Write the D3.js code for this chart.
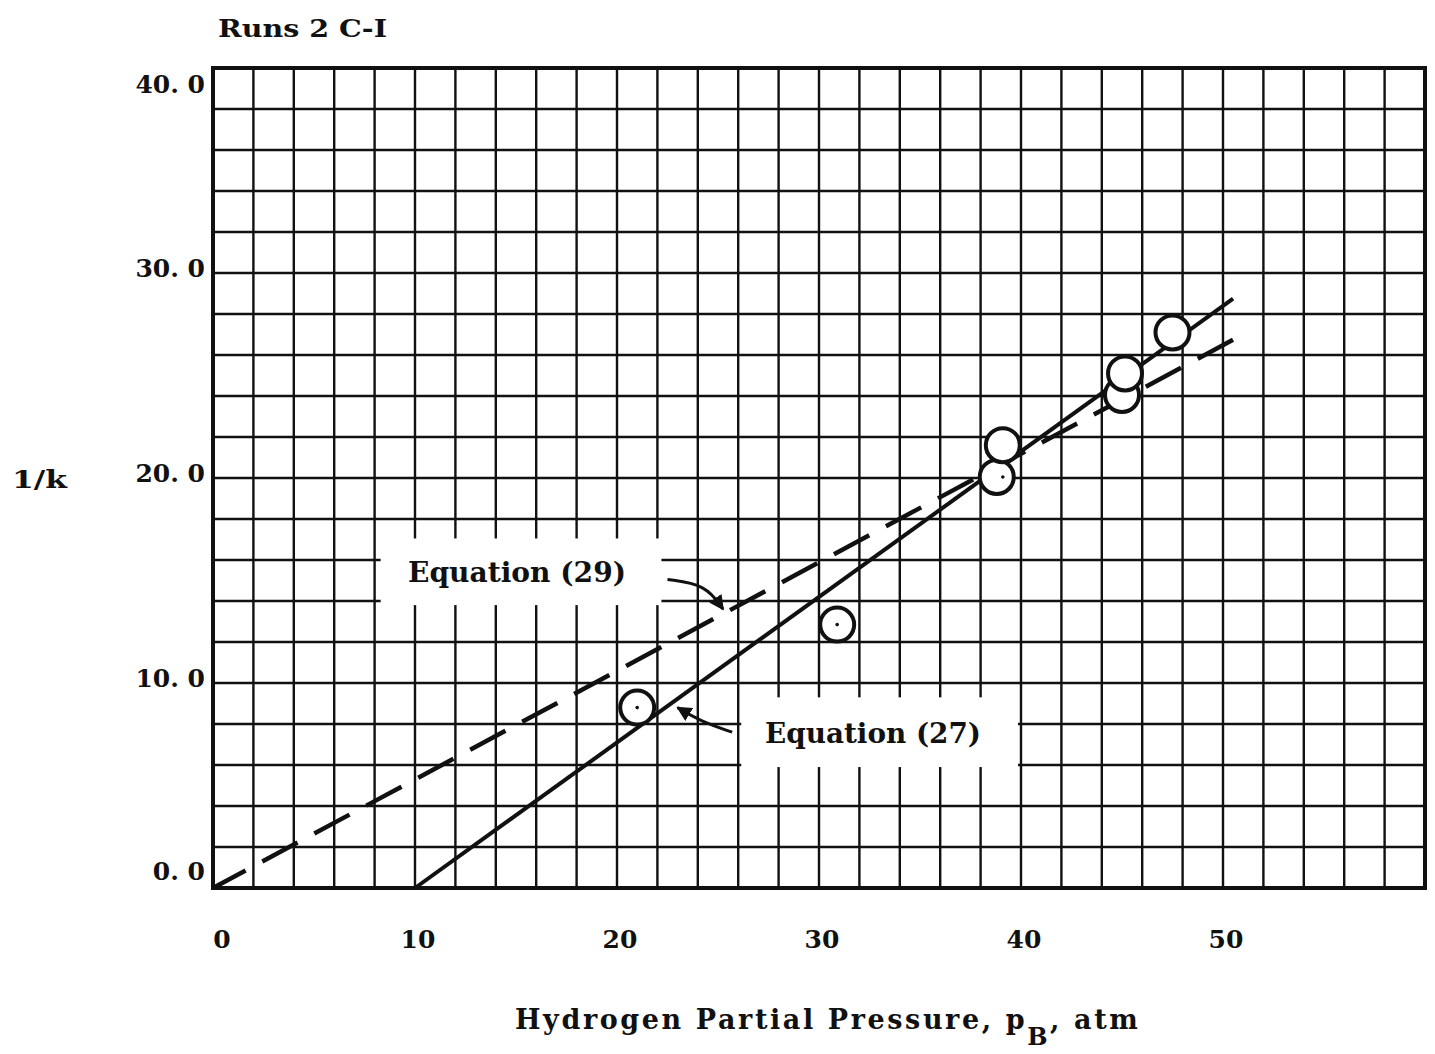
<!DOCTYPE html>
<html>
<head>
<meta charset="utf-8">
<script src="https://cdnjs.cloudflare.com/ajax/libs/d3/7.8.5/d3.min.js"></script>
<style>
  body { margin: 0; background: white; }
  text { font-family: 'DejaVu Serif', serif; font-weight: bold; fill: #111; }
</style>
</head>
<body>
<div id="chart"></div>
<script>
// Data
const pressure = [21.0, 30.9, 38.8, 39.1, 45.0, 45.15, 47.5];
const invK     = [8.8, 12.85, 20.05, 21.6, 24.05, 25.1, 27.1];
const withDot  = [true, true, false, true, false, false, false];

// Fitted lines (pB, 1/k) end points
const eq27 = [[10, 0], [50.5, 28.75]];
const eq29 = [[0, 0], [50.7, 26.85]];

const xTicks = [0, 10, 20, 30, 40, 50];
const yTicks = [0, 10, 20, 30, 40];
const yTickLabels = ['0. 0', '10. 0', '20. 0', '30. 0', '40. 0'];

// Canvas
const width = 1435,
      height = 1054;
const margin = { top: 68, right: 10, bottom: 166, left: 213 };

const svg = d3.select('#chart').append('svg')
    .attr('width', width)
    .attr('height', height)
    .style('background', 'white');

const x = d3.scaleLinear().domain([0, 60]).range([margin.left, width - margin.right]);
const y = d3.scaleLinear().domain([0, 40]).range([height - margin.bottom, margin.top]);

// Graph paper grid, every 2 units
const grid = svg.append('g').attr('stroke', '#111').attr('stroke-width', 2.4);
grid.selectAll('.vx').data(d3.range(2, 60, 2)).enter().append('line')
    .attr('x1', d => x(d)).attr('x2', d => x(d))
    .attr('y1', y(0)).attr('y2', y(40));
grid.selectAll('.hy').data(d3.range(2, 40, 2)).enter().append('line')
    .attr('y1', d => y(d)).attr('y2', d => y(d))
    .attr('x1', x(0)).attr('x2', x(60));

// Frame
svg.append('rect')
    .attr('x', x(0)).attr('y', y(40))
    .attr('width', x(60) - x(0)).attr('height', y(0) - y(40))
    .attr('fill', 'none').attr('stroke', '#111').attr('stroke-width', 4);

// White patches behind the equation labels
const boxes = [
  { x0: 8.3, x1: 22.2, y0: 13.8, y1: 17.05 },
  { x0: 26.15, x1: 39.85, y0: 5.9, y1: 9.3 }
];
svg.selectAll('.box').data(boxes).enter().append('rect')
    .attr('x', d => x(d.x0)).attr('y', d => y(d.y1))
    .attr('width', d => x(d.x1) - x(d.x0))
    .attr('height', d => y(d.y0) - y(d.y1))
    .attr('fill', 'white');

// Fitted lines
const line = d3.line().x(d => x(d[0])).y(d => y(d[1]));
svg.append('path').datum(eq29)
    .attr('d', line)
    .attr('fill', 'none').attr('stroke', '#111').attr('stroke-width', 4.5)
    .attr('stroke-dasharray', '40 19')
    .attr('stroke-dashoffset', 3);
svg.append('path').datum(eq27)
    .attr('d', line)
    .attr('fill', 'none').attr('stroke', '#111').attr('stroke-width', 4);

// Leader arrows to the lines
const curve = d3.line().x(d => x(d[0])).y(d => y(d[1])).curve(d3.curveBasis);
svg.append('defs').append('marker')
    .attr('id', 'head')
    .attr('viewBox', '0 0 10 10')
    .attr('refX', 9).attr('refY', 5)
    .attr('markerWidth', 5).attr('markerHeight', 5)
    .attr('orient', 'auto')
  .append('path').attr('d', 'M0,0L10,5L0,10Z').attr('fill', '#111');

const leaders = [
  [[22.5, 15.05], [24.4, 14.8], [25.25, 13.6]],
  [[25.7, 7.6], [24.1, 8.15], [23.0, 8.8]]
];
svg.selectAll('.leader').data(leaders).enter().append('path')
    .attr('d', curve)
    .attr('fill', 'none').attr('stroke', '#111').attr('stroke-width', 3)
    .attr('marker-end', 'url(#head)');

// Data points
const pts = svg.selectAll('.pt').data(pressure).enter().append('g');
pts.append('circle')
    .attr('cx', d => x(d))
    .attr('cy', (d, i) => y(invK[i]))
    .attr('r', 17)
    .attr('fill', 'white')
    .attr('stroke', '#111').attr('stroke-width', 4);
pts.filter((d, i) => withDot[i]).append('circle')
    .attr('cx', d => x(d))
    .attr('cy', (d, i) => y(invK[i]))
    .attr('r', 1.8).attr('fill', '#111');

// Tick labels
svg.selectAll('.xt').data(xTicks).enter().append('text')
    .attr('x', d => x(d) + (d === 0 ? 9 : 3))
    .attr('y', 948)
    .attr('text-anchor', 'middle')
    .attr('font-size', 25)
    .text(d => d);
svg.selectAll('.yt').data(yTicks).enter().append('text')
    .attr('x', 205)
    .attr('y', d => Math.min(Math.max(y(d) + 4, 93), 880))
    .attr('text-anchor', 'end')
    .attr('font-size', 25)
    .text((d, i) => yTickLabels[i]);

// Equation labels
svg.append('text').attr('x', 408).attr('y', 582)
    .attr('font-size', 27).attr('textLength', 218).attr('lengthAdjust', 'spacingAndGlyphs')
    .text('Equation (29)');
svg.append('text').attr('x', 765).attr('y', 743)
    .attr('font-size', 27).attr('textLength', 216).attr('lengthAdjust', 'spacingAndGlyphs')
    .text('Equation (27)');

// Title and axis labels
svg.append('text').attr('x', 218).attr('y', 37)
    .attr('font-size', 25).attr('textLength', 169).attr('lengthAdjust', 'spacingAndGlyphs')
    .text('Runs 2 C-I');
svg.append('text').attr('x', 12).attr('y', 488)
    .attr('font-size', 25).attr('textLength', 55).attr('lengthAdjust', 'spacingAndGlyphs')
    .text('1/k');

const xTitle = svg.append('text').attr('x', 515).attr('y', 1029)
    .attr('font-size', 27).attr('letter-spacing', 2.6);
xTitle.append('tspan').text('Hydrogen Partial Pressure, p');
xTitle.append('tspan').attr('dy', 16).attr('font-size', 24).text('B');
xTitle.append('tspan').attr('dy', -16).text(', atm');
</script>
</body>
</html>
